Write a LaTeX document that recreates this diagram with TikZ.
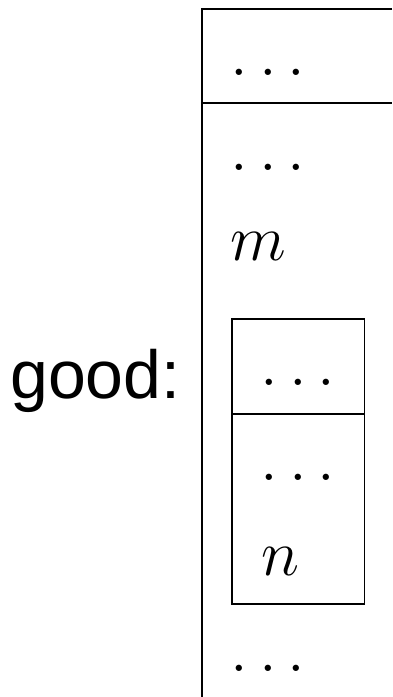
\RequirePackage{fix-cm}
\documentclass[tikz,border=0pt]{standalone}
\usepackage{fontspec}
\newfontfamily\labelfont{Liberation Sans}
\tikzset{
  cell/.style={font=\fontsize{65}{78}\selectfont, inner sep=0pt},
  frame/.style={line width=2pt},
  inframe/.style={line width=1.3pt},
}
\begin{document}
\begin{tikzpicture}[x=1pt,y=-1pt]
\useasboundingbox (0,0) rectangle (392,697);
% outer frame, runs off the page
\draw[frame] (392,9) -- (202,9) -- (202,697);
\draw[frame] (202,103) -- (392,103);
\node[cell] (topdots) at (268,72) {$\ldots$};
\node[cell] (middots) at (268,167) {$\ldots$};
\node[cell,anchor=base] (m) at (258,260) {$m$};
\node[cell] (lowdots) at (268,668) {$\ldots$};

% inner frame
\draw[inframe] (232,319) rectangle (364.5,604);
\draw[line width=1.1pt] (232,414) -- (364.5,414);
\node[cell] (indots) at (298,382) {$\ldots$};
\node[cell] (inmiddots) at (298,477) {$\ldots$};
\node[cell,anchor=base] (n) at (280,575) {$n$};

\node[font=\labelfont\fontsize{68}{80}\selectfont, inner sep=0pt, anchor=base west] (good) at (10,398) {good:};
\end{tikzpicture}
\end{document}
